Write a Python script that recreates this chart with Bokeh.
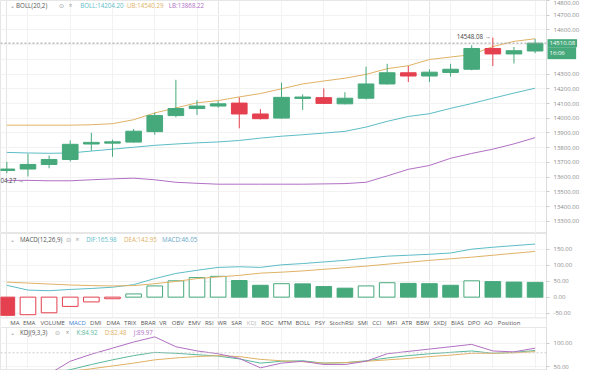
from bokeh.plotting import figure
from bokeh.layouts import column
from bokeh.models import (ColumnDataSource, Range1d, FixedTicker, Span, Label,
                          PrintfTickFormatter, Grid, BoxAnnotation)
from bokeh.embed import file_html
from bokeh.resources import INLINE
from bokeh.core.properties import value

# ---------------- data ----------------
candle_index = list(range(26))
open_prices = [13645, 13655, 13686, 13720, 13825, 13831, 13838, 13909, 14018, 14066,
               14083, 14103, 14029, 14001, 14135, 14140, 14098, 14136, 14233, 14309,
               14287, 14311, 14333, 14474, 14437, 14457]
high_prices = [13704, 13758, 13747, 13849, 13901, 13855, 13927, 14038, 14261, 14122,
               14116, 14142, 14062, 14242, 14162, 14203, 14177, 14350, 14370, 14355,
               14333, 14370, 14496, 14548.08, 14485, 14539]
low_prices = [13627, 13604.27, 13660, 13706, 13779, 13738, 13834, 13888, 14007, 14023,
              14072, 13932, 13992, 13997, 14057, 14098, 14094, 14127, 14229, 14246,
              14246, 14283, 14326, 14355, 14372, 14442]
close_prices = [13655, 13686, 13720, 13823, 13836, 13840, 13912, 14018, 14066, 14083,
                14098, 14029, 13997, 14142, 14144, 14101, 14136, 14233, 14309, 14287,
                14313, 14333, 14474, 14437, 14459, 14510.08]
boll_mid = [13768, 13764, 13762, 13764, 13777, 13790, 13803, 13816, 13825, 13833,
            13839, 13849, 13865, 13878, 13888, 13899, 13911, 13940, 13979, 14012,
            14031, 14067, 14100, 14136, 14171, 14204.20]
boll_ub = [13953, 13953, 13953, 13953, 13956, 13963, 13990, 14036, 14070, 14105,
           14120, 14145, 14168, 14200, 14233, 14253, 14272, 14298, 14337, 14357,
           14399, 14416, 14432, 14487, 14522, 14540.29]
boll_lb = [13578, 13578, 13575, 13575, 13582, 13588, 13593, 13582, 13565, 13558,
           13552, 13552, 13552, 13552, 13552, 13554, 13556, 13565, 13608, 13653,
           13679, 13728, 13761, 13790, 13826, 13868.22]
macd_hist = [-57, -55, -49, -29, -15, -5, 10, 35, 51, 61, 65, 52, 37, 42, 41.5, 33, 28,
             35, 45, 43, 42, 37, 51, 48.5, 47, 46.05]
macd_dif = [37, 22, 20, 24, 27, 31, 39, 58, 74, 84, 93, 95, 93, 101, 105, 110, 115,
            122, 128, 131, 134, 138, 150, 156, 161, 165.98]
macd_dea = [47, 44, 41, 38, 36, 35, 36, 42, 49, 58, 63, 68, 75, 78, 82, 87, 92, 97,
            103, 109, 115, 120, 125, 131, 137, 142.95]
kdj_k = [20, 28, 36, 44, 55, 65, 74, 81, 79, 76, 73, 67, 58, 62, 63, 58, 59, 63, 69,
         74, 78, 81, 84, 79, 81, 84.92]
kdj_d = [25, 30, 35, 40, 46, 52, 58, 65, 69, 72, 74, 72, 66, 63, 61, 58, 59, 62, 65,
         68, 72, 75, 79, 79, 80, 82.48]
kdj_j = [10, 25, 35, 62, 77, 90, 103, 114, 93, 84, 78, 68, 48, 58, 62, 55, 55, 62, 78,
         83, 88, 93, 98, 84, 82, 89.97]
countdown = "16:06"
price_ticks = [13300, 13400, 13500, 13600, 13700, 13800, 13900, 14000, 14100, 14200,
               14300, 14600, 14700, 14800]
price_grid = [13300, 13400, 13500, 13600, 13700, 13800, 13900, 14000, 14100, 14200,
              14300, 14400, 14500, 14600, 14700, 14800]
macd_ticks = [-50, 0, 50, 100, 150]
kdj_ticks = [50, 100]
kdj_level = 80
tab_names = ["MA", "EMA", "VOLUME", "MACD", "DMI", "DMA", "TRIX", "BRAR", "VR", "OBV",
             "EMV", "RSI", "WR", "SAR", "KDJ", "ROC", "MTM", "BOLL", "PSY", "StochRSI",
             "SMI", "CCI", "MFI", "ATR", "BBW", "SKDJ", "BIAS", "DPO", "AO", "Position"]
active_tab = "MACD"
disabled_tab = "KDJ"

# ---------------- layout / style ----------------
# left edge of each tab caption, in reference pixels
tab_left_px = [10, 23, 41, 70, 92, 109, 127, 144, 163, 176, 193, 210, 223, 237, 253,
               268, 285, 303, 323, 338, 367, 382, 397, 412, 427, 445, 463, 480, 497, 511]
FONT = "Open Sans"
FS = "6px"
HFS = "6.2px"
UP = "#46a97c"
DOWN = "#e4404f"
C_MID = "#5dbcc6"
C_UB = "#e0b266"
C_LB = "#b16fc4"
C_K = "#5ab89c"
SX = 546 / 561.0
FW = 546
RB = 38

XR = Range1d(-0.3, 25.54)


def base_fig(h, yr, ticks, grid_ticks=None):
    p = figure(frame_width=FW, frame_height=h, x_range=XR, y_range=Range1d(*yr),
               x_axis_location=None, y_axis_location="right",
               toolbar_location=None, output_backend="svg",
               min_border_left=0, min_border_right=RB,
               min_border_top=0, min_border_bottom=0)
    p.outline_line_color = "#e6e6e6"
    ax = p.yaxis[0]
    ax.ticker = FixedTicker(ticks=ticks)
    ax.formatter = PrintfTickFormatter(format="%.2f")
    ax.major_label_text_font = FONT
    ax.major_label_text_font_size = FS
    ax.major_label_text_color = "#8a8a8a"
    ax.axis_line_color = "#dddddd"
    ax.major_tick_line_color = "#cccccc"
    ax.major_tick_out = 3
    ax.major_tick_in = 0
    ax.minor_tick_line_color = None
    ax.major_label_standoff = 4
    p.ygrid.grid_line_color = "#f2f2f2"
    p.ygrid.ticker = FixedTicker(ticks=grid_ticks if grid_ticks else ticks)
    p.add_layout(Grid(dimension=0, ticker=FixedTicker(ticks=list(range(1, 26, 2))),
                      grid_line_color="#f2f2f2"))
    return p


def header(p, frame_h, y_from_top, items):
    for xr, txt, col in items:
        p.add_layout(Label(x=xr * SX, y=frame_h - y_from_top, x_units="screen",
                           y_units="screen", text=txt, text_color=col,
                           text_font=FONT, text_font_size=HFS,
                           text_baseline="middle", text_align="left"))


# ---------------- main price panel ----------------
MH = 233
main = base_fig(MH, (13217, 14800), price_ticks, price_grid)
src = ColumnDataSource(dict(
    x=candle_index, o=open_prices, h=high_prices, l=low_prices, c=close_prices,
    top=[max(o, c) for o, c in zip(open_prices, close_prices)],
    bottom=[min(o, c) for o, c in zip(open_prices, close_prices)],
    color=[UP if c >= o else DOWN for o, c in zip(open_prices, close_prices)]))
main.line(candle_index, boll_ub, line_color=C_UB, line_width=1)
main.line(candle_index, boll_mid, line_color=C_MID, line_width=1)
main.line(candle_index, boll_lb, line_color=C_LB, line_width=1)
main.segment(x0="x", y0="l", x1="x", y1="h", line_color="color", line_width=1, source=src)
main.vbar(x="x", width=0.74, top="top", bottom="bottom", fill_color="color",
          line_color="color", source=src)

last_close = close_prices[-1]
main.add_layout(Span(location=last_close, dimension="width", line_color="#9a9a9a",
                     line_dash="2 2", line_width=1))

imax = high_prices.index(max(high_prices))
imin = low_prices.index(min(low_prices))
main.text(x=[imax], y=[high_prices[imax]], text=[f"{high_prices[imax]:.2f} \u2192"],
          text_align="right", text_baseline="middle", x_offset=-2, y_offset=-1,
          text_font=value(FONT), text_font_size=HFS, text_color="#444444")
main.text(x=[imin], y=[low_prices[imin]], text=[f"{low_prices[imin]:.2f} \u2192"],
          text_align="right", text_baseline="middle", x_offset=-4, y_offset=4,
          text_font=value(FONT), text_font_size=HFS, text_color="#444444")

# current price and countdown tags, drawn in the right-hand (axis) side panel
main.add_layout(Label(x=FW + 1, x_units="canvas", y=last_close, y_units="data",
                      text=f"{last_close:.2f}",
                      text_font=FONT, text_font_size=FS, text_color="white",
                      background_fill_color=UP, text_baseline="middle",
                      text_align="left", padding=2), "right")
main.add_layout(Label(x=FW + 1, x_units="canvas", y=last_close, y_units="data",
                      y_offset=-10, text=f"   {countdown}   ",
                      text_font=FONT, text_font_size=FS, text_color="white",
                      background_fill_color=UP, text_baseline="middle",
                      text_align="left", padding=2), "right")

header(main, MH, 5, [
    (10, "\u2304", "#888888"),
    (16, "BOLL(20,2)", "#555555"),
    (60, "\u2299", "#999999"),
    (70, "\u00d7", "#999999"),
    (82, f"BOLL:{boll_mid[-1]:.2f}", C_MID),
    (130, f"UB:{boll_ub[-1]:.2f}", C_UB),
    (173, f"LB:{boll_lb[-1]:.2f}", C_LB),
])

# ---------------- MACD panel (with indicator tab bar at its foot) ----------------
AH = 94
TAB_FLOOR = -65
macd = base_fig(AH, (-95, 199), macd_ticks)
line_cols, fill_cols = [], []
for i, v in enumerate(macd_hist):
    col = UP if v >= 0 else DOWN
    rising = i > 0 and v > macd_hist[i - 1]
    line_cols.append(col)
    fill_cols.append("white" if rising else col)
hsrc = ColumnDataSource(dict(x=candle_index,
                             top=[max(v, 0) for v in macd_hist],
                             bottom=[min(v, 0) for v in macd_hist],
                             fill=fill_cols, line=line_cols))
macd.vbar(x="x", width=0.74, top="top", bottom="bottom", fill_color="fill",
          line_color="line", line_width=1, source=hsrc)
macd.line(candle_index, macd_dif, line_color=C_MID, line_width=1)
macd.line(candle_index, macd_dea, line_color=C_UB, line_width=1)
header(macd, AH, 6, [
    (10, "\u2304", "#888888"),
    (20, "MACD(12,26,9)", "#555555"),
    (67, "\u2299", "#999999"),
    (77, "\u00d7", "#999999"),
    (88, f"DIF:{macd_dif[-1]:.2f}", C_MID),
    (127, f"DEA:{macd_dea[-1]:.2f}", C_UB),
    (166, f"MACD:{macd_hist[-1]:.2f}", "#6aa6c8"),
])
macd.add_layout(BoxAnnotation(top=TAB_FLOOR, fill_color="white", fill_alpha=1.0,
                              line_color=None))
macd.add_layout(Span(location=TAB_FLOOR, dimension="width", line_color="#e3e3e3",
                     line_width=1))
for name, xp in zip(tab_names, tab_left_px):
    col = "#3d7fd0" if name == active_tab else ("#bbbbbb" if name == disabled_tab else "#555555")
    macd.add_layout(Label(x=xp * SX, y=5, x_units="screen", y_units="screen",
                          text=name, text_color=col, text_font=FONT,
                          text_font_size=FS, text_baseline="middle",
                          text_align="left"))

# ---------------- KDJ panel ----------------
KH = 43
kdj = base_fig(KH, (42.3, 134), kdj_ticks)
kdj.add_layout(Span(location=kdj_level, dimension="width", line_color="#cccccc",
                    line_dash="2 2", line_width=1))
kdj.line(candle_index, kdj_k, line_color=C_K, line_width=1)
kdj.line(candle_index, kdj_d, line_color=C_UB, line_width=1)
kdj.line(candle_index, kdj_j, line_color=C_LB, line_width=1)
header(kdj, KH, 5, [
    (10, "\u2304", "#888888"),
    (20, "KDJ(9,3,3)", "#555555"),
    (56, "\u2299", "#999999"),
    (67, "\u00d7", "#999999"),
    (78, f"K:{kdj_k[-1]:.2f}", C_K),
    (107, f"D:{kdj_d[-1]:.2f}", C_UB),
    (137, f"J:{kdj_j[-1]:.2f}", C_LB),
])

layout = column(main, macd, kdj, spacing=0)
open("out.html", "w").write(file_html(layout, INLINE))
